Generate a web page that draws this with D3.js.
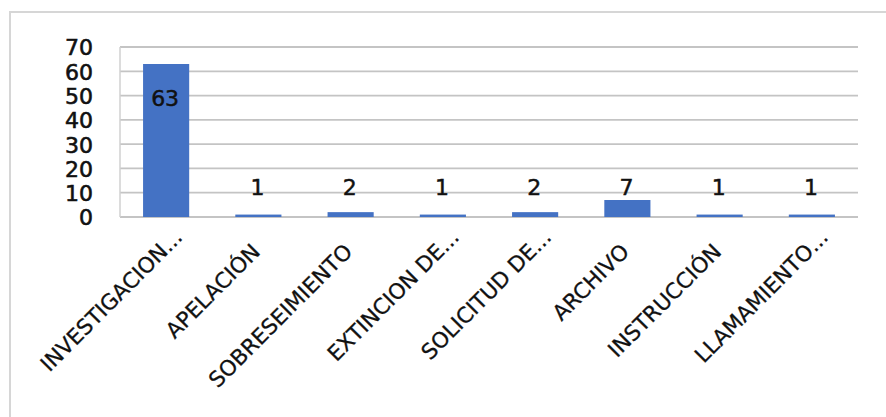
<!DOCTYPE html>
<html>
<head>
<meta charset="utf-8">
<script src="https://cdn.jsdelivr.net/npm/d3@7"></script>
<style>
  html, body { margin: 0; padding: 0; background: #fff; }
  svg { display: block; }
</style>
</head>
<body>
<div id="chart"></div>
<script>
// Case counts by procedural stage
const categories = [
  "INVESTIGACION...", "APELACIÓN", "SOBRESEIMIENTO", "EXTINCION DE...",
  "SOLICITUD DE...", "ARCHIVO", "INSTRUCCIÓN", "LLAMAMIENTO..."
];
const values = [63, 1, 2, 1, 2, 7, 1, 1];
const yTicks = [0, 10, 20, 30, 40, 50, 60, 70];

const W = 886, H = 417;
const plot = { left: 120, right: 858, top: 47, bottom: 217 };
const FONT = "'DejaVu Sans', sans-serif";
const TEXT = "#111";

const svg = d3.select("#chart").append("svg")
  .attr("width", W).attr("height", H);

svg.append("rect").attr("width", W).attr("height", H).attr("fill", "#fff");

// chart-area frame (runs past the right and bottom edges)
svg.append("rect")
  .attr("x", 10).attr("y", 12)
  .attr("width", W + 20).attr("height", H + 20)
  .attr("fill", "none").attr("stroke", "#d6d6d6").attr("stroke-width", 2);

const x = d3.scaleBand()
  .domain(categories)
  .range([plot.left, plot.right])
  .paddingInner(0.5).paddingOuter(0.25);

const y = d3.scaleLinear().domain([0, 70]).range([plot.bottom, plot.top]);

// horizontal gridlines
svg.append("g")
  .selectAll("line").data(yTicks).join("line")
  .attr("x1", plot.left).attr("x2", plot.right)
  .attr("y1", d => y(d)).attr("y2", d => y(d))
  .attr("stroke", "#c4c4c4").attr("stroke-width", 1.8);

// value axis line
svg.append("line")
  .attr("x1", plot.left).attr("x2", plot.left)
  .attr("y1", y(70)).attr("y2", y(0))
  .attr("stroke", "#d0d0d0").attr("stroke-width", 1.5);

// y tick labels
const yAxis = d3.axisLeft(y).tickValues(yTicks).tickSize(0).tickPadding(0);
const gy = svg.append("g").attr("transform", "translate(93,0)").call(yAxis);
gy.select(".domain").remove();
gy.selectAll("text")
  .attr("font-family", FONT).attr("font-size", 22)
  .attr("fill", TEXT).attr("stroke", TEXT).attr("stroke-width", 0.6)
  .attr("dy", "0.36em");

// bars
svg.append("g")
  .selectAll("rect").data(values).join("rect")
  .attr("x", (d, i) => x(categories[i]))
  .attr("width", x.bandwidth())
  .attr("y", d => y(d))
  .attr("height", d => y(0) - y(d))
  .attr("fill", "#4472C4");

// value labels: inside the tall bar, above the axis for the short ones
svg.append("g")
  .selectAll("text").data(values).join("text")
  .attr("x", (d, i) => x(categories[i]) + x.bandwidth() / 2 - 1)
  .attr("y", d => d > 20 ? y(d) + 42 : y(0) - 22)
  .attr("text-anchor", "middle")
  .attr("font-family", FONT).attr("font-size", 22)
  .attr("fill", TEXT).attr("stroke", TEXT).attr("stroke-width", 0.5)
  .text(d => d);

// rotated category labels; a trailing "..." hangs past the anchor point
const ANG = -45;
const labels = svg.append("g").selectAll("g").data(categories).join("g")
  .attr("transform", d => `translate(${x(d) + x.bandwidth() / 2 + 3},253) rotate(${ANG})`);

labels.append("text")
  .attr("text-anchor", "end")
  .attr("font-family", FONT).attr("font-size", 21.5)
  .attr("fill", TEXT).attr("stroke", TEXT).attr("stroke-width", 0.3)
  .text(d => d.endsWith("...") ? d.slice(0, -3) : d);

labels.filter(d => d.endsWith("..."))
  .append("text")
  .attr("text-anchor", "start")
  .attr("font-family", FONT).attr("font-size", 21.5)
  .attr("fill", TEXT).attr("stroke", TEXT).attr("stroke-width", 0.3)
  .text("...");
</script>
</body>
</html>
